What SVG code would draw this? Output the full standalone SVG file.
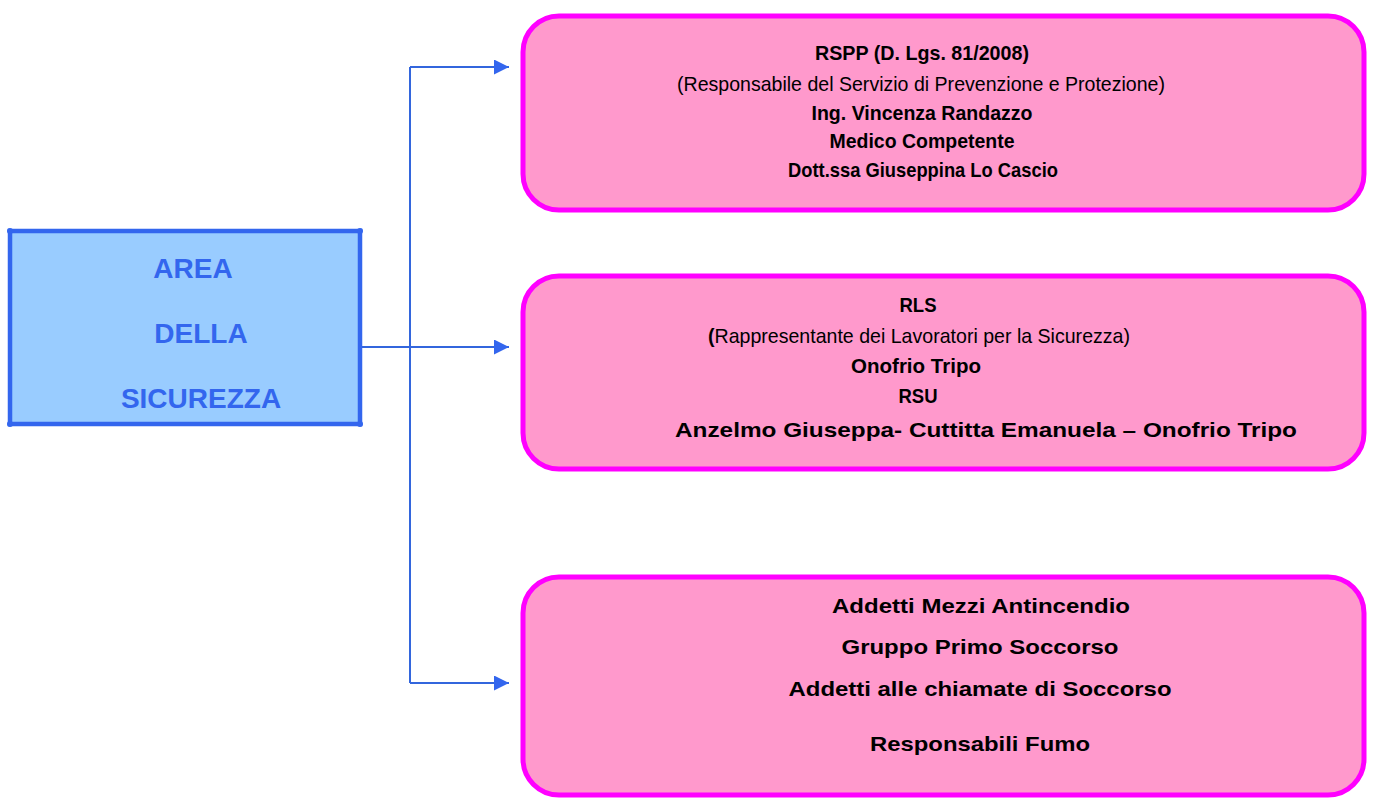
<svg xmlns="http://www.w3.org/2000/svg" width="1373" height="798" viewBox="0 0 1373 798">
<defs>
<style>
.pink{fill:#ff99cc;stroke:#ff00ff;stroke-width:5}
.blue{fill:#99ccff;stroke:#3366ee;stroke-width:4.5}
.t{font-family:"Liberation Sans",Arial,sans-serif;fill:#000;text-anchor:middle;font-size:21px}
.b{font-weight:bold}
.lt{font-family:"Liberation Sans",Arial,sans-serif;font-weight:bold;font-size:28px;fill:#3366ee;text-anchor:middle}
.conn{fill:none;stroke:#3366dd;stroke-width:2}
</style>
<marker id="arr" viewBox="0 0 10 10" refX="10" refY="5" markerWidth="15" markerHeight="15" markerUnits="userSpaceOnUse" orient="auto">
<path d="M0,0 L10,5 L0,10 z" fill="#3366ee"/>
</marker>
</defs>
<rect width="1373" height="798" fill="#ffffff"/>
<g id="connectors">
<path class="conn" d="M410,67 L410,683"/>
<path class="conn" d="M410,67 L509,67" marker-end="url(#arr)"/>
<path class="conn" d="M360,347 L509,347" marker-end="url(#arr)"/>
<path class="conn" d="M410,683 L509,683" marker-end="url(#arr)"/>
</g>
<g id="area">
<rect class="blue" x="10" y="231" width="350" height="193"/>
<circle cx="10" cy="231" r="3" fill="#3366ee"/>
<circle cx="360" cy="231" r="3" fill="#3366ee"/>
<circle cx="10" cy="424" r="3" fill="#3366ee"/>
<circle cx="360" cy="424" r="3" fill="#3366ee"/>
<text class="lt" x="193" y="278">AREA</text>
<text class="lt" x="201" y="343">DELLA</text>
<text class="lt" x="201" y="408">SICUREZZA</text>
</g>
<g id="rspp">
<rect class="pink" x="523" y="16" width="841" height="194" rx="36" ry="36"/>
<text class="t b" x="922" y="60" textLength="214" lengthAdjust="spacingAndGlyphs">RSPP (D. Lgs. 81/2008)</text>
<text class="t" x="921" y="91" textLength="488" lengthAdjust="spacingAndGlyphs">(Responsabile del Servizio di Prevenzione e Protezione)</text>
<text class="t b" x="922" y="120" textLength="221" lengthAdjust="spacingAndGlyphs">Ing. Vincenza Randazzo</text>
<text class="t b" x="922" y="148" textLength="185" lengthAdjust="spacingAndGlyphs">Medico Competente</text>
<text class="t b" x="923" y="177" textLength="270" lengthAdjust="spacingAndGlyphs">Dott.ssa Giuseppina Lo Cascio</text>
</g>
<g id="rls">
<rect class="pink" x="523" y="276" width="841" height="193" rx="36" ry="36"/>
<text class="t b" x="918" y="312" textLength="37" lengthAdjust="spacingAndGlyphs">RLS</text>
<text class="t" x="919" y="343" textLength="422" lengthAdjust="spacingAndGlyphs"><tspan font-weight="bold">(</tspan>Rappresentante dei Lavoratori per la Sicurezza)</text>
<text class="t b" x="916" y="373" textLength="130" lengthAdjust="spacingAndGlyphs">Onofrio Tripo</text>
<text class="t b" x="918" y="403" textLength="39" lengthAdjust="spacingAndGlyphs">RSU</text>
<text class="t b" x="986" y="437" textLength="622" lengthAdjust="spacingAndGlyphs">Anzelmo Giuseppa- Cuttitta Emanuela – Onofrio Tripo</text>
</g>
<g id="addetti">
<rect class="pink" x="523" y="577" width="841" height="218" rx="36" ry="36"/>
<text class="t b" x="981" y="613" textLength="298" lengthAdjust="spacingAndGlyphs">Addetti Mezzi Antincendio</text>
<text class="t b" x="980" y="654" textLength="277" lengthAdjust="spacingAndGlyphs">Gruppo Primo Soccorso</text>
<text class="t b" x="980" y="696" textLength="383" lengthAdjust="spacingAndGlyphs">Addetti alle chiamate di Soccorso</text>
<text class="t b" x="980" y="751" textLength="220" lengthAdjust="spacingAndGlyphs">Responsabili Fumo</text>
</g>
</svg>
